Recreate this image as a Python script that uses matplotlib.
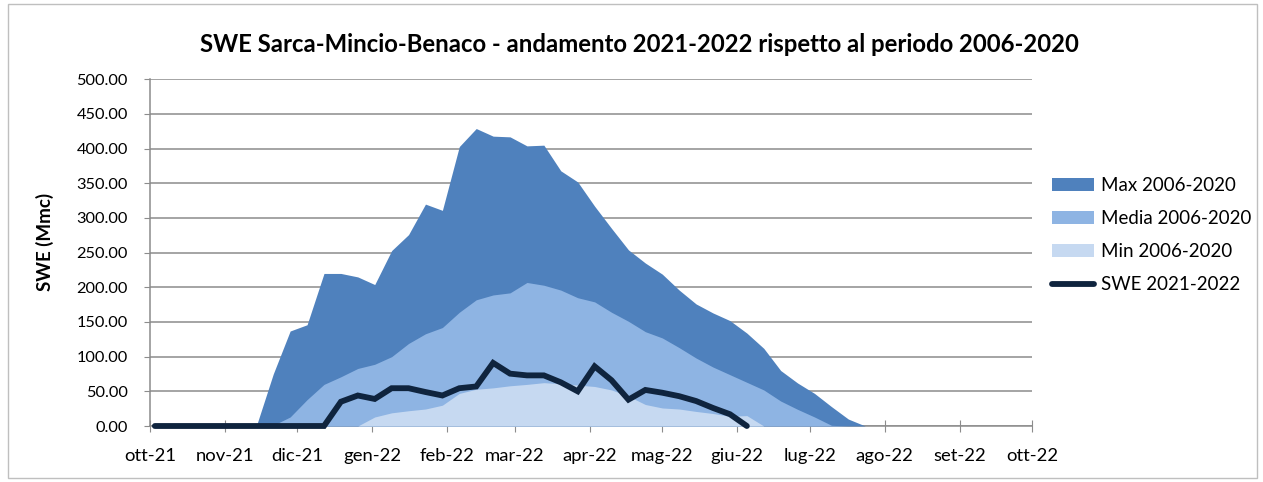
import matplotlib
matplotlib.use("Agg")
import matplotlib.pyplot as plt
from matplotlib.patches import Patch, Rectangle
from matplotlib.lines import Line2D
import pandas as pd

plt.rcParams['font.family'] = ['Lato', 'DejaVu Sans']

# weekly observation dates (categories of the x axis)
dates = pd.date_range("2021-10-03", periods=52, freq="7D")

max_0620 = [0, 0, 0, 0, 0, 0, 0, 75, 137, 146, 220, 220, 215, 204, 253, 276, 320, 311,
            403, 429, 418, 417, 404, 405, 368, 352, 317, 285, 254, 235, 219, 196, 176,
            163, 152, 134, 112, 80, 62, 47, 28, 10, 0, 0, 0, 0, 0, 0, 0, 0, 0, 0]
media_0620 = [0, 0, 0, 0, 0, 0, 0, 1, 13, 38, 60, 71, 83, 89, 100, 119, 133, 142,
              164, 182, 189, 192, 207, 203, 196, 185, 179, 164, 151, 136, 127, 113, 98,
              85, 74, 63, 52, 36, 24, 13, 1, 0, 0, 0, 0, 0, 0, 0, 0, 0, 0, 0]
min_0620 = [0, 0, 0, 0, 0, 0, 0, 0, 0, 0, 0, 0, 0, 13, 19, 22, 24.5, 30,
            47, 53, 55, 58, 60, 62.5, 61, 59, 57, 52, 43, 31, 26, 24.5, 21,
            18, 14, 15, 0, 0, 0, 0, 0, 0, 0, 0, 0, 0, 0, 0, 0, 0, 0, 0]
swe_2122 = [0, 0, 0, 0, 0, 0, 0, 0, 0, 0, 0, 35, 44, 39, 54.5, 54.5, 49, 44,
            54.5, 57, 91, 75.5, 73, 73, 63, 50, 86, 66, 38, 52, 48, 43, 36,
            26, 17, 0]

month_ticks = pd.date_range("2021-10-01", "2022-10-01", freq="MS")
month_labels = ["ott-21", "nov-21", "dic-21", "gen-22", "feb-22", "mar-22", "apr-22",
                "mag-22", "giu-22", "lug-22", "ago-22", "set-22", "ott-22"]
y_ticks = [0, 50, 100, 150, 200, 250, 300, 350, 400, 450, 500]

c_max = "#4F81BD"
c_media = "#8EB4E3"
c_min = "#C6D9F1"
c_swe = "#0F243E"

W, H = 1263, 482
fig = plt.figure(figsize=(W / 100, H / 100), dpi=100)
ax = fig.add_axes([150 / W, 1 - 426 / H, (1032 - 150) / W, (426 - 79.3) / H])

ax.fill_between(dates, 0, max_0620, color=c_max, lw=0, zorder=2)
ax.fill_between(dates, 0, media_0620, color=c_media, lw=0, zorder=3)
ax.fill_between(dates, 0, min_0620, color=c_min, lw=0, zorder=4)
ax.plot(dates[:len(swe_2122)], swe_2122, color=c_swe, lw=4.2, zorder=5,
        solid_capstyle='round', solid_joinstyle='miter', clip_on=False)

ax.set_xlim(month_ticks[0], month_ticks[-1])
ax.set_ylim(0, 500)
ax.set_xticks(month_ticks)
ax.set_xticklabels(month_labels)
ax.set_yticks(y_ticks)
ax.set_yticklabels([f"{v:.2f}" for v in y_ticks])

ax.set_axisbelow(True)
ax.grid(axis='y', color='#8C8C8C', lw=1.1, zorder=0)
for s in ['top', 'right']:
    ax.spines[s].set_visible(False)
for s in ['left', 'bottom']:
    ax.spines[s].set_color('#8C8C8C')
    ax.spines[s].set_linewidth(1.1)
    ax.spines[s].set_zorder(1)
ax.tick_params(axis='x', direction='inout', length=9, color='#8C8C8C', labelsize=13.3, pad=11)
ax.tick_params(axis='y', direction='out', length=4, color='#8C8C8C', labelsize=11.8, pad=12)

fig.text(45 / W, 1 - 242 / H, "SWE (Mmc)", rotation=90, ha='center', va='center',
         fontsize=13.5, fontweight='bold')
fig.text(639 / W, 1 - 44 / H,
         "SWE Sarca-Mincio-Benaco - andamento 2021-2022 rispetto al periodo 2006-2020",
         ha='center', va='center', fontsize=17.2, fontweight='bold')

handles = [Patch(facecolor=c_max, edgecolor='none'),
           Patch(facecolor=c_media, edgecolor='none'),
           Patch(facecolor=c_min, edgecolor='none'),
           Line2D([0], [0], color=c_swe, lw=4.2, solid_capstyle='round')]
labels = ["Max 2006-2020", "Media 2006-2020", "Min 2006-2020", "SWE 2021-2022"]
fig.legend(handles, labels, loc='center left', bbox_to_anchor=(1052 / W, 1 - 235 / H),
           frameon=False, fontsize=13.5, borderpad=0, borderaxespad=0,
           handlelength=2.25, handleheight=0.64, handletextpad=0.37, labelspacing=0.85)

fig.patches.append(Rectangle((8 / W, 4 / H), (1257 - 8) / W, (478 - 4) / H,
                             transform=fig.transFigure, fill=False,
                             edgecolor='#BFBFBF', lw=1))

fig.savefig("out.png", dpi=100)
